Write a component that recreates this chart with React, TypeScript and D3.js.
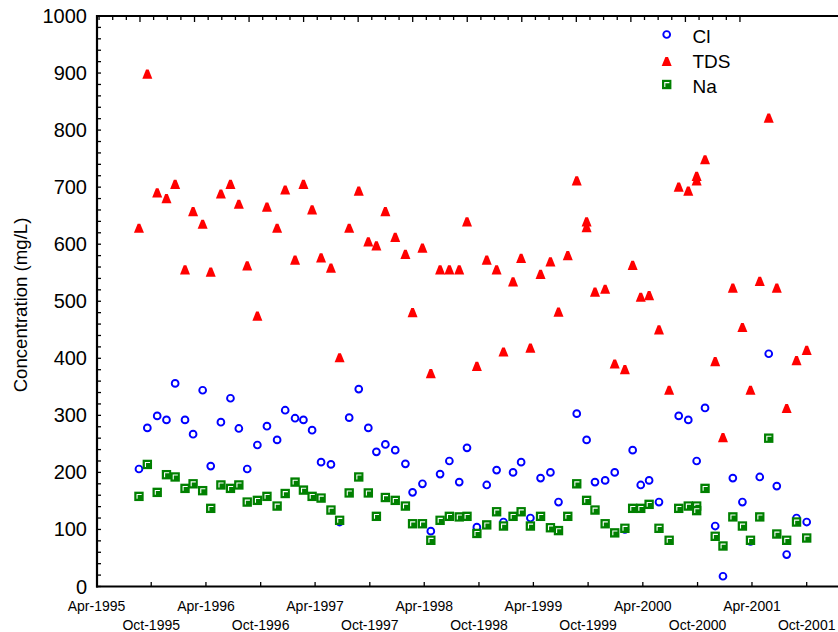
import React from "react";
import * as d3 from "d3";

const sampleDates = [
  "1995-08-21","1995-09-18","1995-10-21","1995-11-21","1995-12-20","1996-01-22","1996-02-18","1996-03-21",
  "1996-04-17","1996-05-21","1996-06-22","1996-07-20","1996-08-17","1996-09-20","1996-10-22","1996-11-25",
  "1996-12-22","1997-01-24","1997-02-21","1997-03-22","1997-04-21","1997-05-24","1997-06-22","1997-07-24",
  "1997-08-25","1997-09-26","1997-10-23","1997-11-22","1997-12-25","1998-01-28","1998-02-21","1998-03-26",
  "1998-04-23","1998-05-24","1998-06-24","1998-07-27","1998-08-22","1998-09-24","1998-10-27","1998-11-29",
  "1998-12-22","1999-01-23","1999-02-19","1999-03-22","1999-04-25","1999-05-28","1999-06-24","1999-07-25",
  "1999-08-24","1999-09-26","1999-09-26","1999-10-24","1999-11-27","1999-12-29","2000-02-01","2000-02-27",
  "2000-03-25","2000-04-22","2000-05-25","2000-06-28","2000-07-30","2000-08-31","2000-09-28","2000-09-28",
  "2000-10-26","2000-11-29","2000-12-25","2001-01-27","2001-02-28","2001-03-27","2001-04-27","2001-05-27",
  "2001-06-23","2001-07-26","2001-08-28","2001-10-01",
];

const tdsValues: (number | null)[] = [
  628, 898, 690, 680, 705, 555, 657, 635,
  551, 688, 705, 670, 562, 474, 665, 628,
  695, 572, 705, 660, 576, 558, 401, 628,
  693, 604, 597, 657, 612, 582, 480, 593,
  373, 555, 555, 555, 639, 386, 572, 555,
  411, 534, 575, 418, 547, 569, 481, 580,
  711, 629, 639, 516, 521, 390, 380, 563,
  507, 510, 450, 344, 700, 693, 719, 711,
  748, 394, 261, 523, 454, 344, 535, 821,
  523, 312, 396, 414,
];

const clValues: (number | null)[] = [
  206, 278, 299, 292, 356, 292, 267, 344,
  211, 288, 330, 277, 206, 248, 281, 257,
  309, 295, 292, 274, 218, 214, 113, 296,
  346, 278, 236, 249, 239, 215, 165, 180,
  97, 197, 220, 183, 243, 104, 178, 204,
  113, 200, 218, 120, 190, 200, 148, null,
  303, 257, null, 183, 186, 200, 100, 239,
  178, 186, 148, null, 299, 292, 220, null,
  313, 106, 18, 190, 148, 79, 192, 408,
  176, 56, 120, 113,
];

const naValues: (number | null)[] = [
  158, 214, 165, 196, 192, 172, 180, 168,
  137, 178, 172, 178, 148, 151, 158, 141,
  163, 183, 169, 158, 155, 134, 116, 164,
  192, 164, 123, 156, 151, 141, 110, 110,
  81, 116, 123, 122, 123, 93, 108, 131,
  106, 123, 131, 106, 123, 103, 98, 123,
  180, 151, null, 134, 110, 94, 102, 137,
  137, 144, 102, 81, 137, 141, 141, 133,
  172, 88, 71, 122, 106, 81, 122, 260,
  92, 81, 113, 85,
];

const seriesNames = ["Cl", "TDS", "Na"];
const xTickLabels = [
  "Apr-1995","Oct-1995","Apr-1996","Oct-1996","Apr-1997","Oct-1997","Apr-1998",
  "Oct-1998","Apr-1999","Oct-1999","Apr-2000","Oct-2000","Apr-2001","Oct-2001",
];
const yTickValues = [0, 100, 200, 300, 400, 500, 600, 700, 800, 900, 1000];
const yAxisTitle = "Concentration (mg/L)";

const W = 838;
const H = 632;
const FONT = "'Liberation Sans', Arial, Helvetica, sans-serif";
const BLUE = "#0000ff";
const RED = "#ff0000";
const GREEN = "#008000";

const parse = d3.timeParse("%Y-%m-%d");
const parseLabel = d3.timeParse("%b-%Y");

function Circle({ x, y }: { x: number; y: number }) {
  return <circle cx={x} cy={y} r={3.4} fill="none" stroke={BLUE} strokeWidth={1.9} />;
}
function Tri({ x, y }: { x: number; y: number }) {
  return (
    <path
      d={`M${x - 1.3},${y - 4.6}L${x + 1.3},${y - 4.6}L${x + 5},${y + 4.6}L${x - 5},${y + 4.6}Z`}
      fill={RED}
    />
  );
}
function Sq({ x, y }: { x: number; y: number }) {
  const s = 9.4;
  const l = x - s / 2;
  const t = y - s / 2;
  return (
    <g>
      <rect x={l} y={t} width={s} height={s} fill={GREEN} />
      <path
        d={`M${l + 2.8},${t + 7.2}L${l + 2.8},${t + 2.8}L${l + 7.4},${t + 2.8}`}
        fill="none"
        stroke="#ffffff"
        strokeWidth={1.1}
      />
    </g>
  );
}

export default function App() {
  const dates = sampleDates.map((d) => parse(d) as Date);
  const x = d3
    .scaleTime()
    .domain([parseLabel("Apr-1995") as Date, parseLabel("Oct-2001") as Date])
    .range([96.5, 806.7]);
  const y = d3.scaleLinear().domain([0, 1000]).range([586.5, 16]);

  const axisX = 97;
  const rightEdge = W;

  const yMinor = d3.range(0, 1001, 20);
  const xTicks = xTickLabels.map((l) => parseLabel(l) as Date);

  // top axis: evenly spaced ticks (every 1.5 months), major every 4th
  const topOrigin = parse("2000-02-21") as Date;
  const topTicks: { px: number; major: boolean }[] = [];
  for (let k = -40; k <= 8; k++) {
    const d = d3.timeHour.offset(topOrigin, Math.round(k * 45.6 * 24));
    const px = x(d);
    if (px > axisX + 2 && px <= rightEdge) topTicks.push({ px, major: k % 4 === 0 });
  }

  const pts = (vals: (number | null)[]) =>
    vals
      .map((v, i) => (v == null ? null : { px: x(dates[i]), py: y(v) }))
      .filter((p): p is { px: number; py: number } => p !== null);

  return (
    <svg
      width={W}
      height={H}
      style={{ position: "absolute", left: 0, top: 0, background: "#fff" }}
      fontFamily={FONT}
    >
      <rect x={0} y={0} width={W} height={H} fill="#fff" />
      {/* axes lines */}
      <line x1={axisX} y1={15} x2={axisX} y2={587.5} stroke="#000" strokeWidth={2.2} />
      <line x1={axisX - 1} y1={586.5} x2={rightEdge} y2={586.5} stroke="#000" strokeWidth={2.2} />
      <line x1={axisX - 1} y1={16} x2={rightEdge} y2={16} stroke="#000" strokeWidth={2} />

      {/* y ticks */}
      {yMinor.map((v) => (
        <line key={"yt" + v} x1={axisX} x2={axisX + 4} y1={y(v)} y2={y(v)} stroke="#000" strokeWidth={1.3} />
      ))}
      {yTickValues.map((v) => (
        <text
          key={"yl" + v}
          x={87}
          y={y(v)}
          dy="0.35em"
          textAnchor="end"
          fontSize={20}
          fill="#000"
        >
          {v}
        </text>
      ))}

      {/* x ticks bottom */}
      {xTicks.map((d, i) => (
        <g key={"xt" + i}>
          {i > 0 && (
            <line x1={x(d)} x2={x(d)} y1={586.5} y2={582} stroke="#000" strokeWidth={1.3} />
          )}
          <text
            x={x(d)}
            y={i % 2 === 0 ? 610.5 : 630}
            textAnchor="middle"
            fontSize={14}
            fill="#000"
          >
            {xTickLabels[i]}
          </text>
        </g>
      ))}

      {/* top ticks */}
      {topTicks.map((t, i) => (
        <line
          key={"tt" + i}
          x1={t.px}
          x2={t.px}
          y1={16}
          y2={t.major ? 22 : 20}
          stroke="#000"
          strokeWidth={1.3}
        />
      ))}

      {/* y title */}
      <text
        transform={`translate(27,305) rotate(-90)`}
        textAnchor="middle"
        fontSize={18.6}
        fill="#000"
      >
        {yAxisTitle}
      </text>

      {/* data */}
      <g>
        {pts(clValues).map((p, i) => (
          <Circle key={"c" + i} x={p.px} y={p.py} />
        ))}
      </g>
      <g>
        {pts(tdsValues).map((p, i) => (
          <Tri key={"t" + i} x={p.px} y={p.py} />
        ))}
      </g>
      <g>
        {pts(naValues).map((p, i) => (
          <Sq key={"n" + i} x={p.px} y={p.py} />
        ))}
      </g>

      {/* legend */}
      <g>
        <Circle x={666.7} y={34.5} />
        <Tri x={666.7} y={61.5} />
        <Sq x={666.7} y={84.5} />
        {seriesNames.map((n, i) => (
          <text key={"lg" + n} x={692.5} y={42.7 + i * 25} fontSize={19} fill="#000">
            {n}
          </text>
        ))}
      </g>
    </svg>
  );
}
